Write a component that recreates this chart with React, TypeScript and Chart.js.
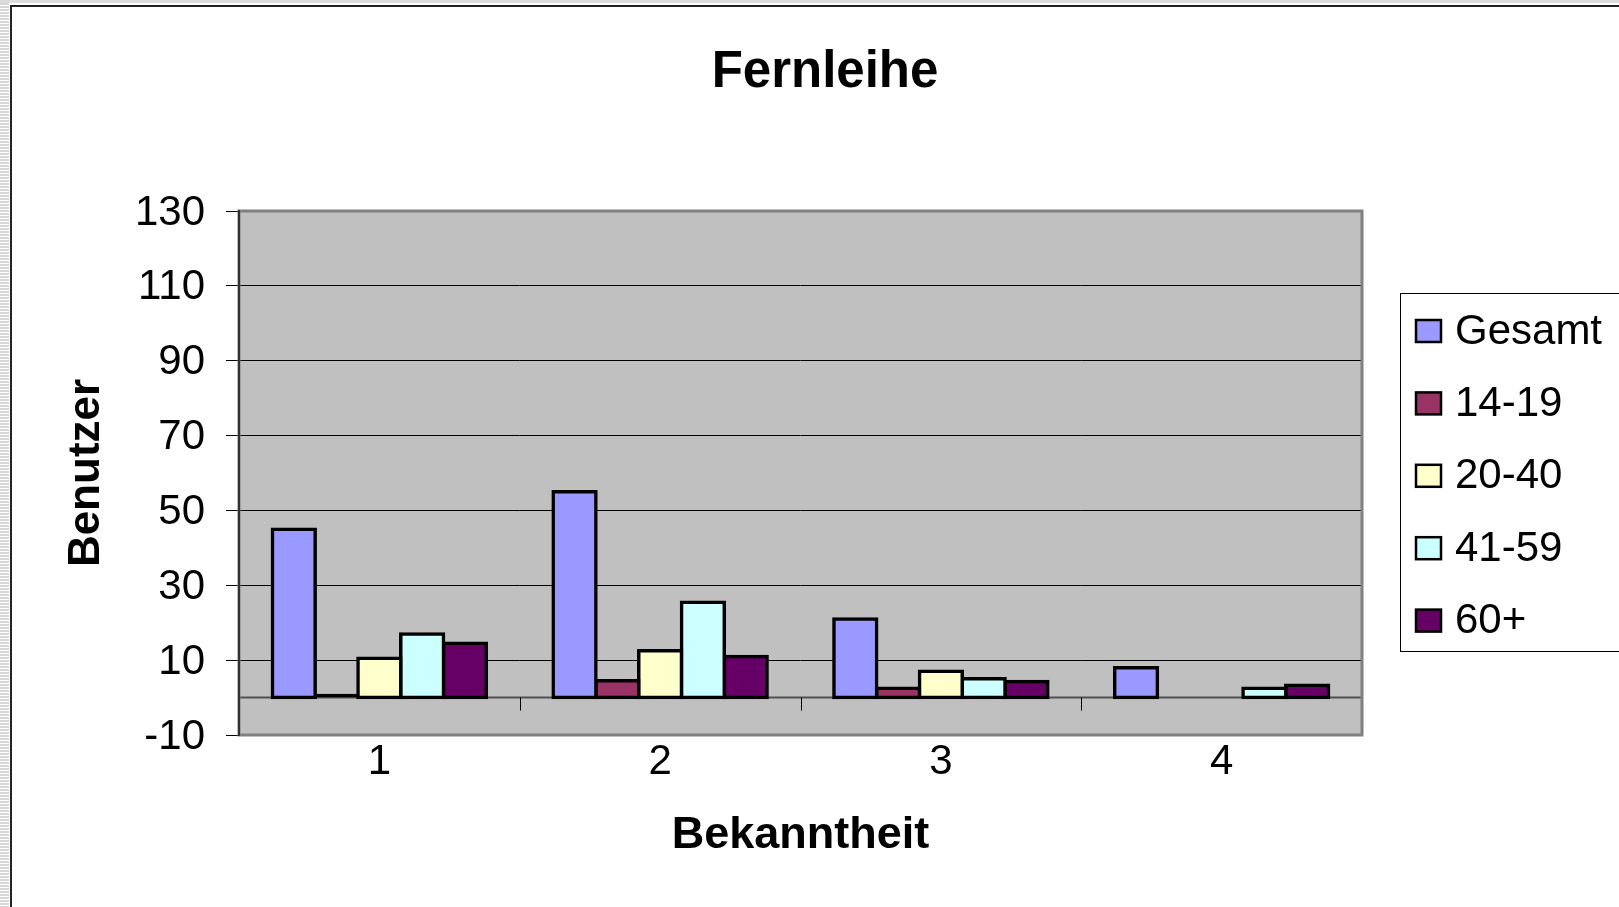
import React, { useEffect, useRef } from "react";
import { Chart, registerables } from "chart.js";

Chart.register(...registerables);

const categories = ["1", "2", "3", "4"];
const seriesNames = ["Gesamt", "14-19", "20-40", "41-59", "60+"];
const gesamt = [45, 55, 21, 8];
const age14to19 = [1, 4.5, 2.5, 0];
const age20to40 = [10.5, 12.5, 7, 0];
const age41to59 = [17, 25.5, 5, 2.5];
const age60plus = [14.5, 11, 4.3, 3.3];
const seriesColors = ["#9999FF", "#993366", "#FFFFCC", "#CCFFFF", "#660066"];
const yTicks = [-10, 10, 30, 50, 70, 90, 110, 130];
const chartTitle = "Fernleihe";
const xTitle = "Bekanntheit";
const yTitle = "Benutzer";

const FONT = "'Liberation Sans', Arial, sans-serif";

const excelPlugin = {
  id: "excelLook",
  beforeDraw(chart: any) {
    const { ctx, chartArea: a } = chart;
    ctx.save();
    ctx.fillStyle = "#C0C0C0";
    ctx.fillRect(a.left, a.top, a.right - a.left, a.bottom - a.top);
    ctx.restore();
  },
  beforeDatasetsDraw(chart: any) {
    const { ctx, chartArea: a } = chart;
    const xs = chart.scales.x;
    const ys = chart.scales.y;
    const y0 = ys.getPixelForValue(0);
    ctx.save();
    // category axis crossing at zero
    ctx.strokeStyle = "#505050";
    ctx.lineWidth = 2;
    ctx.beginPath();
    ctx.moveTo(a.left, y0);
    ctx.lineTo(a.right, y0);
    ctx.stroke();
    // category boundary tick marks
    ctx.strokeStyle = "#000";
    ctx.lineWidth = 1;
    const n = categories.length;
    for (let i = 0; i <= n; i++) {
      let bx;
      if (i === 0) bx = a.left;
      else if (i === n) bx = a.right;
      else bx = (xs.getPixelForValue(i - 1) + xs.getPixelForValue(i)) / 2;
      const px = Math.round(bx) + 0.5;
      ctx.beginPath();
      ctx.moveTo(px, y0);
      ctx.lineTo(px, y0 + 13);
      ctx.stroke();
    }
    // plot area border
    ctx.strokeStyle = "#808080";
    ctx.lineWidth = 3;
    ctx.strokeRect(a.left, a.top, a.right - a.left, a.bottom - a.top);
    ctx.strokeStyle = "#303030";
    ctx.lineWidth = 2;
    ctx.beginPath();
    ctx.moveTo(a.left, a.top - 1);
    ctx.lineTo(a.left, a.bottom + 1);
    ctx.stroke();
    ctx.restore();
  },
  afterDraw(chart: any) {
    const { ctx } = chart;
    ctx.save();
    // title
    ctx.fillStyle = "#000";
    ctx.font = `bold 51px ${FONT}`;
    ctx.textAlign = "center";
    ctx.textBaseline = "middle";
    ctx.fillText(chartTitle, 825, 73);
    // legend
    const boxLeft = 1400.5;
    const boxTop = 293.5;
    ctx.strokeStyle = "#000";
    ctx.lineWidth = 1;
    ctx.strokeRect(boxLeft, boxTop, 260, 358);
    ctx.font = `42px ${FONT}`;
    ctx.textAlign = "left";
    chart.data.datasets.forEach((ds: any, i: number) => {
      const cy = 331 + i * 72.4;
      ctx.fillStyle = ds.backgroundColor;
      ctx.fillRect(1416, cy - 11, 25, 22);
      ctx.strokeStyle = "#000";
      ctx.lineWidth = 2.5;
      ctx.strokeRect(1416, cy - 11, 25, 22);
      ctx.fillStyle = "#000";
      ctx.fillText(ds.label, 1455, cy + 1);
    });
    ctx.restore();
  },
};

export default function App() {
  const ref = useRef<HTMLCanvasElement | null>(null);

  useEffect(() => {
    if (!ref.current) return;
    const series = [gesamt, age14to19, age20to40, age41to59, age60plus];
    const chart = new Chart(ref.current, {
      type: "bar",
      data: {
        labels: categories,
        datasets: series.map((values, i) => ({
          label: seriesNames[i],
          data: values,
          backgroundColor: seriesColors[i],
          borderColor: "#000",
          borderWidth: 3.5,
          // Excel draws the outline centred on the bar edge; very short bars are all outline
          inflateAmount: (c: any) => (Math.abs(Number(c.raw)) < 2 ? 0 : 1.75),
          borderSkipped: false,
          barPercentage: 1,
          categoryPercentage: 0.762,
        })),
      },
      options: {
        responsive: false,
        animation: false,
        devicePixelRatio: 1,
        layout: { padding: { left: 0, right: 257, top: 211, bottom: 0 } },
        plugins: {
          legend: { display: false },
          title: { display: false },
          tooltip: { enabled: false },
        },
        scales: {
          x: {
            grid: { display: false, drawTicks: false },
            border: { display: false },
            ticks: { color: "#000", font: { family: FONT, size: 42 }, padding: 2 },
            title: {
              display: true,
              text: xTitle,
              color: "#000",
              font: { family: FONT, size: 45, weight: "bold" },
              padding: { top: 0, bottom: 44 },
            },
            afterFit: (s: any) => {
              s.height = 172;
            },
          },
          y: {
            min: -10,
            max: 130,
            afterBuildTicks: (s: any) => {
              s.ticks = yTicks.map((v) => ({ value: v }));
            },
            grid: {
              color: (c: any) =>
                c.tick && (c.tick.value === -10 || c.tick.value === 130) ? "rgba(0,0,0,0)" : "#000",
              tickColor: "#000",
              tickLength: 13,
              lineWidth: 1,
            },
            border: { display: false },
            ticks: { color: "#000", font: { family: FONT, size: 42 }, padding: 21, labelOffset: 2 },
            title: {
              display: true,
              text: yTitle,
              color: "#000",
              font: { family: FONT, size: 44, weight: "bold" },
              padding: { top: 60, bottom: 0 },
            },
            afterFit: (s: any) => {
              s.width = 239;
            },
          },
        },
      },
      plugins: [excelPlugin],
    } as any);
    return () => chart.destroy();
  }, []);

  return (
    <div
      style={{
        position: "fixed",
        left: 0,
        top: 0,
        width: 1619,
        height: 907,
        overflow: "hidden",
        background: "#fff",
      }}
    >
      <div style={{ position: "absolute", left: 0, top: 0, width: 1619, height: 3, background: "#dcdcdc" }} />
      <div
        style={{
          position: "absolute",
          left: 0,
          top: 3,
          width: 9,
          height: 904,
          background: "repeating-linear-gradient(to bottom, #d6d6d6 0px, #d6d6d6 2px, #ffffff 2px, #ffffff 3px)",
        }}
      />
      <div
        style={{
          position: "absolute",
          left: 10,
          top: 5,
          width: 1640,
          height: 920,
          borderLeft: "2px solid #222",
          borderTop: "2px solid #222",
        }}
      />
      <canvas
        ref={ref}
        width={1619}
        height={907}
        style={{ position: "absolute", left: 0, top: 0, width: 1619, height: 907 }}
      />
    </div>
  );
}
